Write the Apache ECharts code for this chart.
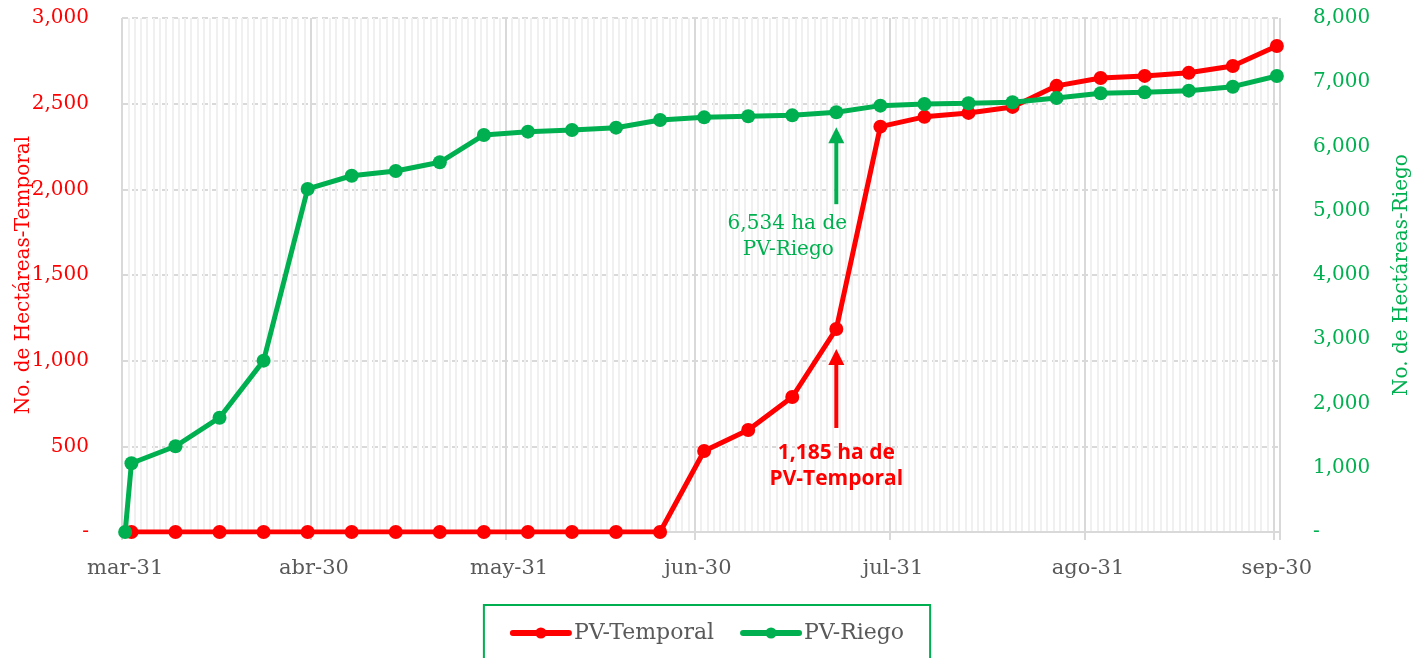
<!DOCTYPE html>
<html>
<head>
<meta charset="utf-8">
<script src="https://cdn.jsdelivr.net/npm/echarts@6/dist/echarts.min.js"></script>
<style>
html,body{margin:0;padding:0;background:#fff;}
#chart{width:1414px;height:658px;}
</style>
</head>
<body>
<div id="chart"></div>
<script>
// ---- axis structure ----
const monthNames = ['mar', 'abr', 'may', 'jun', 'jul', 'ago', 'sep'];
const monthNums = ['03', '04', '05', '06', '07', '08', '09'];
const monthLengths = [31, 30, 31, 30, 31, 31, 30];

// ---- data (weekly observations) ----
const weekDates = ['04-01','04-08','04-15','04-22','04-29','05-06','05-13','05-20','05-27',
  '06-03','06-10','06-17','06-24','07-01','07-08','07-15','07-22','07-29',
  '08-05','08-12','08-19','08-26','09-02','09-09','09-16','09-23','09-30'];
const temporal = [0,0,0,0,0,0,0,0,0,0,0,0,0,473,595,788,1185,2366,2423,2446,2481,2604,2650,2662,2680,2720,2837];
const riegoDates = ['03-31'].concat(weekDates);
const riego = [0,1070,1335,1779,2667,5339,5545,5619,5754,6179,6231,6257,6293,6412,6454,6470,6485,6534,6636,6661,6672,6688,6755,6828,6843,6869,6931,7097];

const leftTicks = {min: 0, max: 3000, interval: 500};
const rightTicks = {min: 0, max: 8000, interval: 1000};

// build daily categories from Mar-31 to Sep-30
const dayCats = [];
monthNums.forEach((m, mi) => {
  const start = mi === 0 ? 31 : 1;
  for (let d = start; d <= monthLengths[mi]; d++) {
    dayCats.push(m + '-' + String(d).padStart(2, '0'));
  }
});
function isMonthEnd(cat) {
  const mi = monthNums.indexOf(cat.slice(0, 2));
  return parseInt(cat.slice(3), 10) === monthLengths[mi];
}
function catLabel(cat) {
  const mi = monthNums.indexOf(cat.slice(0, 2));
  return monthNames[mi] + '-' + parseInt(cat.slice(3), 10);
}
const fmt = v => v === 0 ? '-' : v.toLocaleString('en-US');

const RED = '#ff0000', GREEN = '#00b050', GREY = '#595959';
const SERIF = '"DejaVu Serif", serif';

const chart = echarts.init(document.getElementById('chart'), null, {renderer: 'canvas'});
const option = {
  animation: false,
  backgroundColor: '#ffffff',
  grid: {left: 122, right: 134, top: 18, bottom: 126, containLabel: false, outerBoundsMode: 'none'},
  legend: {
    data: ['PV-Temporal', 'PV-Riego'],
    left: 'center', top: 605,
    padding: [17, 26, 22, 26],
    borderColor: GREEN, borderWidth: 2,
    itemWidth: 56, itemHeight: 14, itemGap: 26,
    lineStyle: {width: 6, cap: 'round'},
    textStyle: {color: GREY, fontSize: 22, fontFamily: SERIF}
  },
  xAxis: [{
    type: 'category', data: dayCats, boundaryGap: true,
    axisLine: {show: true, lineStyle: {color: '#d9d9d9', width: 2}},
    axisTick: {show: false},
    axisLabel: {
      interval: (i, v) => isMonthEnd(v),
      formatter: v => catLabel(v),
      color: GREY, fontSize: 21, fontFamily: SERIF, margin: 26
    },
    splitLine: {show: true, interval: (i, v) => !isMonthEnd(v), lineStyle: {color: '#f0f0f0', width: 2}}
  }, {
    type: 'category', data: dayCats, boundaryGap: true, position: 'bottom',
    axisLine: {show: false},
    axisLabel: {show: false},
    axisTick: {show: true, interval: (i, v) => isMonthEnd(v), length: 8, lineStyle: {color: '#d9d9d9', width: 2}},
    splitLine: {show: true, interval: (i, v) => isMonthEnd(v), lineStyle: {color: '#d9d9d9', width: 2}}
  }],
  yAxis: [{
    type: 'value', position: 'left',
    min: leftTicks.min, max: leftTicks.max, interval: leftTicks.interval,
    name: 'No. de Hectáreas-Temporal', nameLocation: 'middle', nameGap: 88, nameRotate: 90,
    nameMoveOverlap: false,
    nameTextStyle: {color: RED, fontSize: 20, fontFamily: SERIF},
    axisLine: {show: false}, axisTick: {show: false},
    axisLabel: {formatter: fmt, color: RED, fontSize: 20, fontFamily: SERIF, margin: 33},
    splitLine: {show: true, lineStyle: {color: '#d9d9d9', width: 2, type: [6, 4]}}
  }, {
    type: 'value', position: 'right',
    min: rightTicks.min, max: rightTicks.max, interval: rightTicks.interval,
    name: 'No. de Hectáreas-Riego', nameLocation: 'middle', nameGap: 112, nameRotate: 90,
    nameMoveOverlap: false,
    nameTextStyle: {color: GREEN, fontSize: 20, fontFamily: SERIF},
    axisLine: {show: false}, axisTick: {show: false},
    axisLabel: {formatter: fmt, color: GREEN, fontSize: 20, fontFamily: SERIF, margin: 33},
    splitLine: {show: false}
  }],
  series: [{
    name: 'PV-Temporal', type: 'line', xAxisIndex: 0, yAxisIndex: 0,
    data: weekDates.map((d, i) => [dayCats.indexOf(d), temporal[i]]),
    symbol: 'circle', symbolSize: 14, showAllSymbol: true,
    lineStyle: {color: RED, width: 5}, itemStyle: {color: RED},
    z: 3
  }, {
    name: 'PV-Riego', type: 'line', xAxisIndex: 0, yAxisIndex: 1,
    data: riegoDates.map((d, i) => [dayCats.indexOf(d), riego[i]]),
    symbol: 'circle', symbolSize: 14, showAllSymbol: true,
    lineStyle: {color: GREEN, width: 5}, itemStyle: {color: GREEN},
    z: 4
  }]
};
chart.setOption(option);

// annotations anchored to data points
function arrow(x, tipY, bottomY, color) {
  return [{
    type: 'line', silent: true, z: 10,
    shape: {x1: x, y1: tipY + 12, x2: x, y2: bottomY},
    style: {stroke: color, lineWidth: 4}
  }, {
    type: 'polygon', silent: true, z: 10,
    shape: {points: [[x, tipY], [x - 8, tipY + 16], [x + 8, tipY + 16]]},
    style: {fill: color}
  }];
}
const annIdx = weekDates.indexOf('07-22');
const pR = chart.convertToPixel({xAxisIndex: 0, yAxisIndex: 0}, [dayCats.indexOf('07-22'), temporal[annIdx]]);
const pG = chart.convertToPixel({xAxisIndex: 0, yAxisIndex: 1}, [dayCats.indexOf('07-22'), riego[annIdx + 1]]);
const graphics = []
  .concat(arrow(pG[0], pG[1] + 15, pG[1] + 92, GREEN))
  .concat(arrow(pR[0], pR[1] + 20, pR[1] + 99, RED))
  .concat([
    {type: 'text', silent: true, z: 10, x: pG[0] - 49, y: pG[1] + 112,
      style: {text: fmt(riego[annIdx + 1]) + ' ha de', fill: GREEN, font: '20px ' + SERIF, align: 'center', verticalAlign: 'middle'}},
    {type: 'text', silent: true, z: 10, x: pG[0] - 48, y: pG[1] + 138,
      style: {text: 'PV-Riego', fill: GREEN, font: '20px ' + SERIF, align: 'center', verticalAlign: 'middle'}},
    {type: 'text', silent: true, z: 10, x: pR[0], y: pR[1] + 124,
      style: {text: fmt(temporal[annIdx]) + ' ha de', fill: RED, font: 'bold 21px "Open Sans", sans-serif', align: 'center', verticalAlign: 'middle'}},
    {type: 'text', silent: true, z: 10, x: pR[0], y: pR[1] + 150,
      style: {text: 'PV-Temporal', fill: RED, font: 'bold 21px "Open Sans", sans-serif', align: 'center', verticalAlign: 'middle'}}
  ]);
chart.setOption({graphic: graphics});
</script>
</body>
</html>
